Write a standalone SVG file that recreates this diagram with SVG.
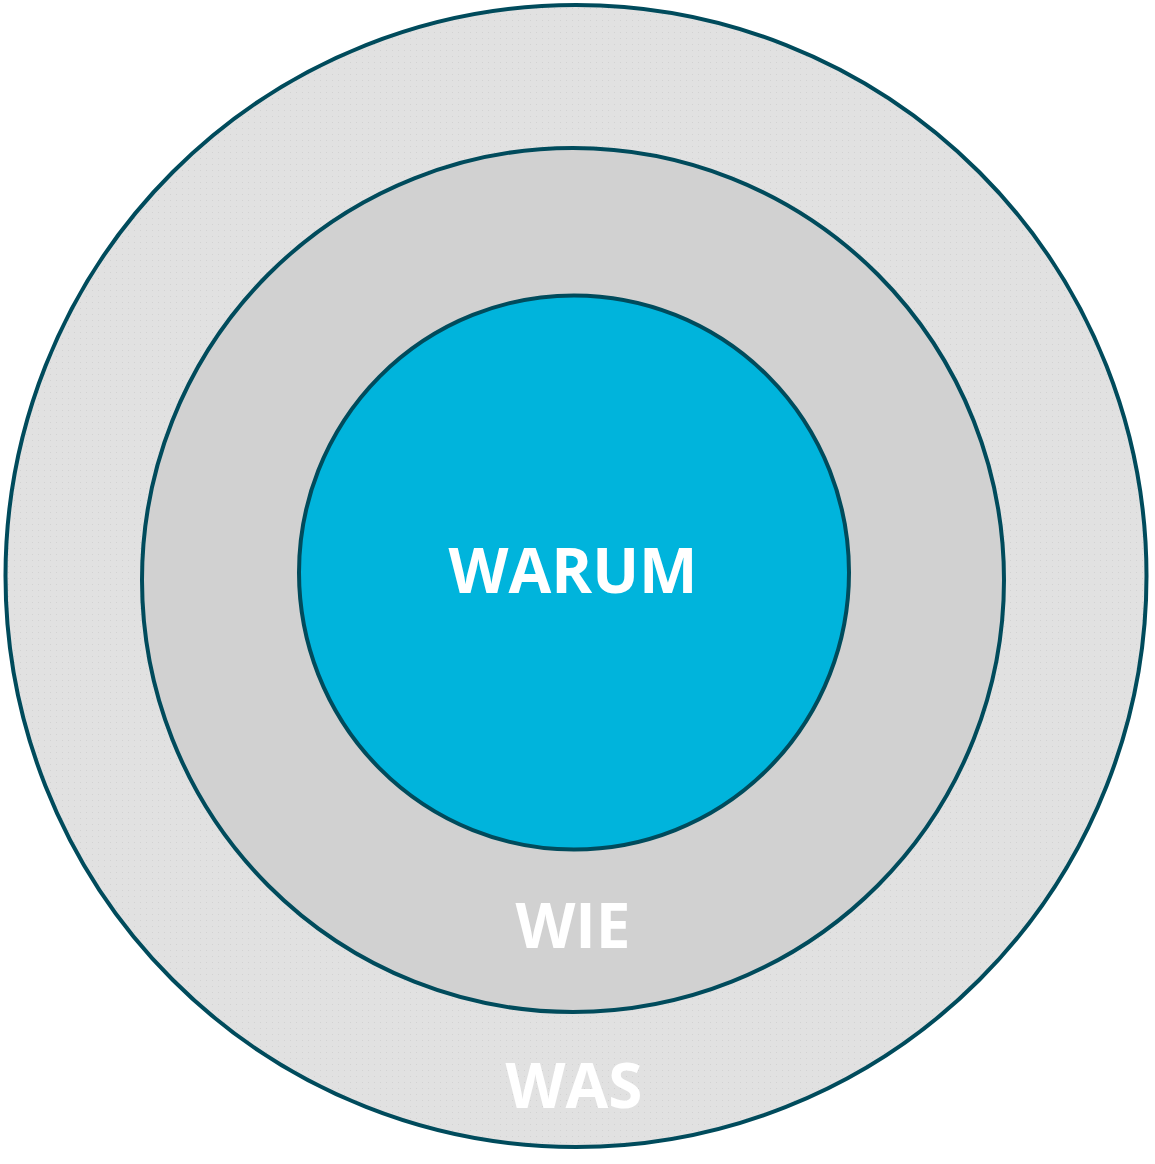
<svg xmlns="http://www.w3.org/2000/svg" width="1155" height="1164" viewBox="0 0 1155 1164">
  <defs>
    <pattern id="dots" width="6" height="6" patternUnits="userSpaceOnUse">
      <rect width="6" height="6" fill="#e1e1e1"/>
      <rect x="2" y="2" width="1" height="1" fill="#d2d2d2"/>
    </pattern>
  </defs>
  <style>
    .ring { stroke: #004b5c; stroke-width: 4; }
    .lbl { font-family: "Open Sans", "Liberation Sans", sans-serif; font-weight: 700; font-size: 62px; fill: #ffffff; text-anchor: middle; }
  </style>
  <rect width="1155" height="1164" fill="#ffffff"/>
  <g id="was">
    <ellipse class="ring" cx="576" cy="576" rx="570.5" ry="571" fill="url(#dots)"/>
    <text class="lbl" x="574" y="1108">WAS</text>
  </g>
  <g id="wie">
    <ellipse class="ring" cx="573" cy="580" rx="431" ry="432" fill="#d1d1d1"/>
    <text class="lbl" x="573" y="948">WIE</text>
  </g>
  <g id="warum">
    <ellipse class="ring" cx="574" cy="572.5" rx="275" ry="277" fill="#00b4dc"/>
    <text class="lbl" x="573" y="593">WARUM</text>
  </g>
  <g id="connectors"/>
</svg>
